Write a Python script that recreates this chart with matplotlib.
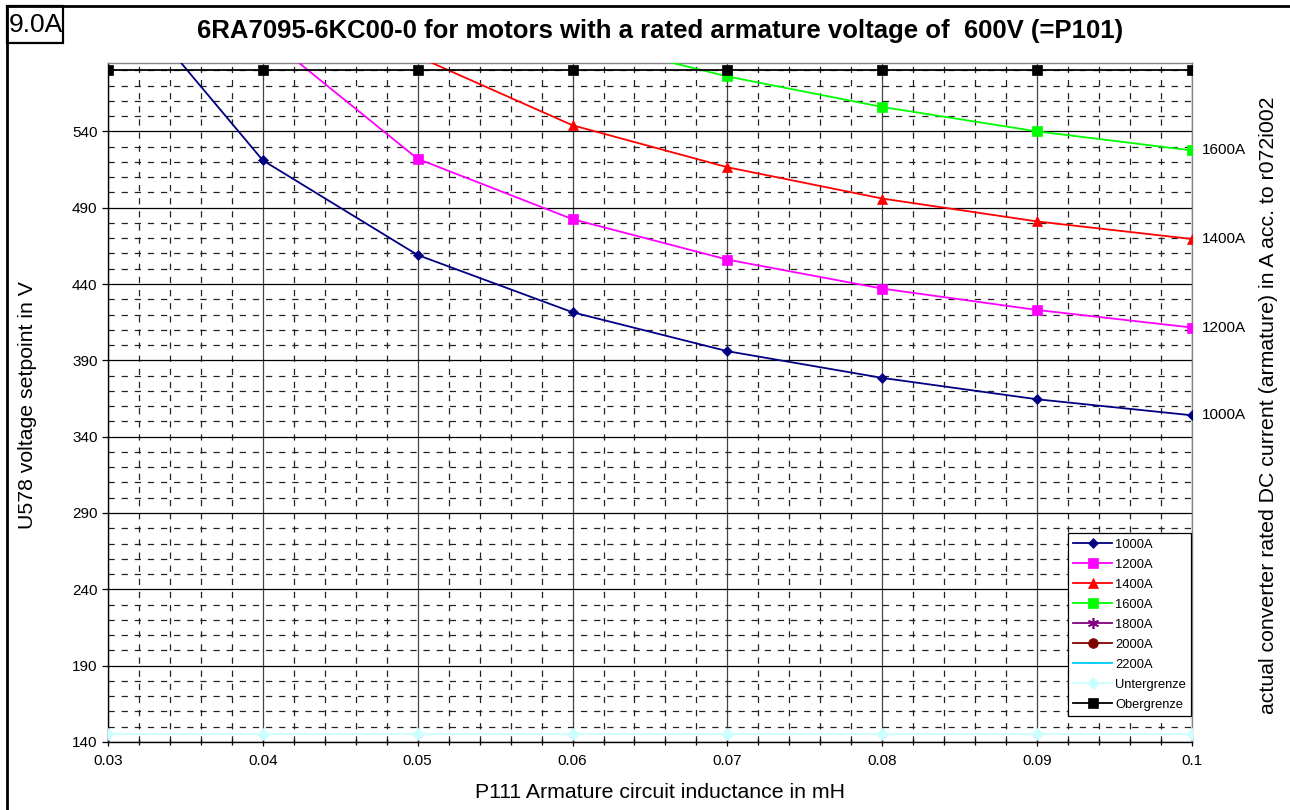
import numpy as np
import matplotlib
matplotlib.use("Agg")
import matplotlib.pyplot as plt
from matplotlib.ticker import MultipleLocator, FixedLocator
from matplotlib.lines import Line2D
from matplotlib.patches import Rectangle

plt.rcParams['font.family'] = ['Liberation Sans', 'DejaVu Sans']

# data (voltage setpoint in V over inductance in mH)
inductance = [0.03, 0.04, 0.05, 0.06, 0.07, 0.08, 0.09, 0.1]
x_ticklabels = ['0.03', '0.04', '0.05', '0.06', '0.07', '0.08', '0.09', '0.1']
u_1000A = [642, 521, 459, 421.5, 396, 378.5, 364.5, 354]
u_1200A = [700, 604, 522, 482.5, 456, 437, 423, 411.5]
u_1400A = [760, 680, 589, 544, 516.5, 496, 481, 469.5]
u_1600A = [820, 730, 650, 601, 576, 556, 540, 527.5]
u_1800A = [880, 790, 710, 665, 630, 608, 596, 589]
u_2000A = [940, 850, 770, 725, 690, 665, 650, 640]
u_2200A = [1000, 910, 830, 785, 750, 725, 710, 700]
untergrenze = [145] * 8
obergrenze = [580] * 8

series = [
    ("1000A", u_1000A, "#000080", "D", 5.5),
    ("1200A", u_1200A, "#FF00FF", "s", 7),
    ("1400A", u_1400A, "#FF0000", "^", 7),
    ("1600A", u_1600A, "#00FF00", "s", 7),
    ("1800A", u_1800A, "#800080", (6, 2, 0), 8),
    ("2000A", u_2000A, "#800000", "o", 7),
    ("2200A", u_2200A, "#00CCFF", "_", 9),
    ("Untergrenze", untergrenze, "#CCFFFF", "D", 6.5),
    ("Obergrenze", obergrenze, "#000000", "s", 7),
]
right_labels = ["1000A", "1200A", "1400A", "1600A"]

fig = plt.figure(figsize=(12.9, 8.1), dpi=100)
ax = fig.add_axes([0.0837, 0.0840, 0.924 - 0.0837, 0.9226 - 0.0840])

ax.set_xlim(0.03, 0.1)
ax.set_ylim(140, 585)
ax.set_xticks(inductance)
ax.set_xticklabels(x_ticklabels)
ax.xaxis.set_minor_locator(FixedLocator(np.arange(0.03, 0.1001, 0.002)))
ax.set_yticks(np.arange(140, 541, 50))
ax.yaxis.set_minor_locator(MultipleLocator(10))

# grid
ax.grid(which='minor', axis='both', color='#222222', linestyle=(0, (5, 5.5)), lw=0.9)
ax.grid(which='major', axis='y', color='black', linestyle='-', lw=0.9)
ax.grid(which='major', axis='x', color='#444444', linestyle='-', lw=0.9)
ax.set_axisbelow(True)

handles = []
for name, vals, col, mk, ms in series:
    mew = 1.2 if mk == (6, 2, 0) else 0.5
    ax.plot(inductance, vals, color=col, lw=1.3, marker=mk, markersize=ms,
            markeredgewidth=mew, markeredgecolor=col, zorder=3)
    handles.append(Line2D([], [], color=col, lw=1.3, marker=mk, markersize=ms,
                          markeredgecolor=col, markeredgewidth=mew))

for name, vals, col, mk, ms in series:
    if name in right_labels:
        ax.text(1.009, vals[-1], name, transform=ax.get_yaxis_transform(),
                fontsize=11, va='center', ha='left')

leg = ax.legend(handles, [s[0] for s in series], loc='lower right',
                bbox_to_anchor=(1.0, 0.037), fontsize=9.3, frameon=True,
                fancybox=False, edgecolor='black', framealpha=1,
                handlelength=3.0, handletextpad=0.25, borderpad=0.4,
                labelspacing=0.62, borderaxespad=0.05)
leg.get_frame().set_linewidth(0.9)

ax.tick_params(axis='both', which='major', labelsize=11, direction='out', length=4, width=0.9)
ax.tick_params(axis='x', which='major', direction='inout', length=6, pad=6)
ax.tick_params(axis='x', which='minor', direction='inout', length=5, width=0.9)
ax.tick_params(axis='y', which='minor', length=0)

for side in ['left', 'bottom']:
    ax.spines[side].set_color('black')
    ax.spines[side].set_linewidth(1.0)
for side in ['top', 'right']:
    ax.spines[side].set_color('#888888')
    ax.spines[side].set_linewidth(1.0)

fig.text(0.512, 0.021, "P111 Armature circuit inductance in mH", fontsize=15.3,
         ha='center', va='center')
fig.text(0.0217, 0.5, "U578 voltage setpoint in V", fontsize=15.3, rotation=90,
         ha='center', va='center')
fig.text(0.983, 0.5, "actual converter rated DC current (armature) in A acc. to r072i002",
         rotation=90, fontsize=15.3, ha='center', va='center')

fig.text(0.512, 0.962, "6RA7095-6KC00-0 for motors with a rated armature voltage of  600V (=P101)",
         fontsize=18.5, fontweight='bold', ha='center', va='center')

# outer frame (top and left) and the small box
fig.add_artist(Line2D([0.0054, 1.0], [0.9926, 0.9926], color='black', lw=2, transform=fig.transFigure))
fig.add_artist(Line2D([0.0054, 0.0054], [0.0, 0.9926], color='black', lw=2, transform=fig.transFigure))
fig.add_artist(Rectangle((0.0054, 0.9469), 0.0434, 0.0457, transform=fig.transFigure,
                         facecolor='white', edgecolor='black', lw=1.6))
fig.text(0.0275, 0.969, "9.0A", fontsize=19, ha='center', va='center')

fig.savefig("out.png", dpi=100)
